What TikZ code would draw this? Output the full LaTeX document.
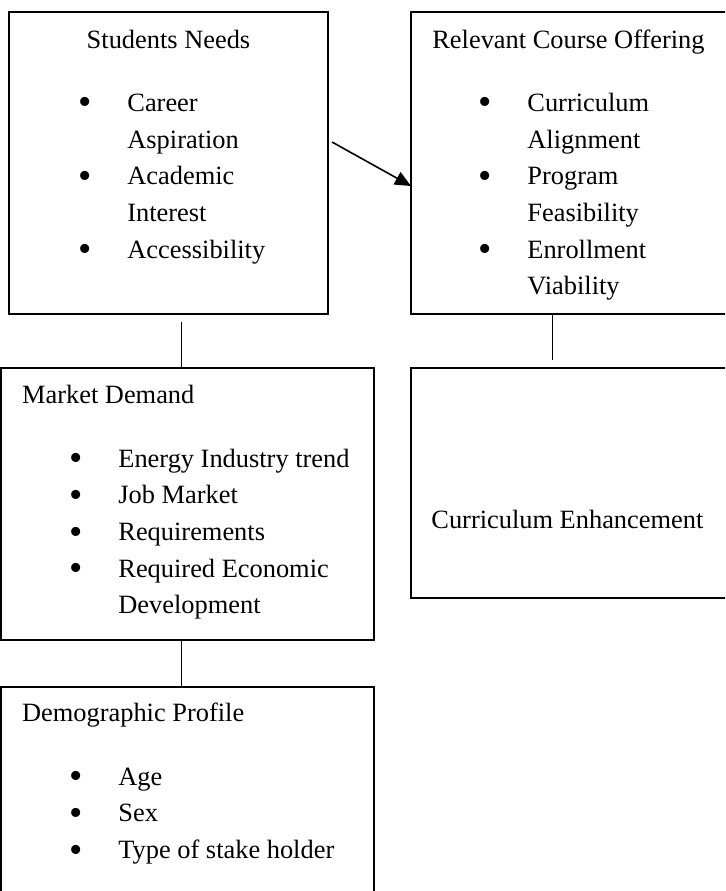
\documentclass[tikz,border=0pt]{standalone}
\usepackage{fontspec}
\setmainfont{Liberation Serif}
\usetikzlibrary{arrows.meta}
\newcommand\bul{\makebox[42pt]{\raisebox{-1.8pt}{\fontsize{19pt}{19pt}\selectfont\textbullet}}}

\begin{document}
\begin{tikzpicture}[x=0.5pt,y=-0.5pt,
    box/.style={rectangle,draw,line width=0.65pt,anchor=north west,inner sep=0pt,outer sep=0pt},
    txt/.style={font=\fontsize{13.2pt}{18.35pt}\selectfont,inner sep=0pt},
    list/.style={txt,anchor=base west},
    link/.style={line width=0.45pt}]
    \useasboundingbox (0,0) rectangle (725,891);
    \clip (0,0) rectangle (725,891);
    \node[box,minimum width=159.5pt,minimum height=151pt] (S) at (9,12) {};
    \node[box,minimum width=159pt,minimum height=151pt] (R) at (411,12) {};
    \node[box,minimum width=186.5pt,minimum height=136pt] (M) at (1,368) {};
    \node[box,minimum width=159pt,minimum height=115pt] (C) at (411,368) {};
    \node[box,minimum width=186.5pt,minimum height=110pt] (D) at (1,687) {};
    \node[txt,anchor=base] (S1) at (168.5,48.3) {Students Needs};
    \node[txt,anchor=base] (R1) at (568.5,48.3) {Relevant Course Offering};
    \node[txt,anchor=base west] (M1) at (21.7,403.3) {Market Demand};
    \node[txt,anchor=base west] (C1) at (431,528) {Curriculum Enhancement};
    \node[txt,anchor=base west] (D1) at (21.7,721.7) {Demographic Profile};
    \node[list] (S2) at (43,111.3) {\begin{tabular}[t]{@{}l@{}l@{}}
        \bul & Career\\ & Aspiration\\ \bul & Academic\\ & Interest\\ \bul & Accessibility
    \end{tabular}};
    \node[list] (R2) at (443,111.3) {\begin{tabular}[t]{@{}l@{}l@{}}
        \bul & Curriculum\\ & Alignment\\ \bul & Program\\ & Feasibility\\ \bul & Enrollment\\ & Viability
    \end{tabular}};
    \node[list] (M2) at (34,467) {\begin{tabular}[t]{@{}l@{}l@{}}
        \bul & Energy Industry trend\\ \bul & Job Market\\ \bul & Requirements\\ \bul & Required Economic\\ & Development
    \end{tabular}};
    \node[list] (D2) at (34,785) {\begin{tabular}[t]{@{}l@{}l@{}}
        \bul & Age\\ \bul & Sex\\ \bul & Type of stake holder
    \end{tabular}};
    \coordinate (a) at (332,142);
    \coordinate (b) at (181,322);
    \coordinate (c) at (552,360);
    \draw[line width=0.8pt,-{Triangle[length=8pt,width=7pt]}] (a) -- ([yshift=-11.5pt]R.west);
    \draw[link] (b) -- (b |- M.north);
    \draw[link] (c |- R.south) -- (c);
    \draw[link] (b |- M.south) -- (b |- D.north);
\end{tikzpicture}
\end{document}
